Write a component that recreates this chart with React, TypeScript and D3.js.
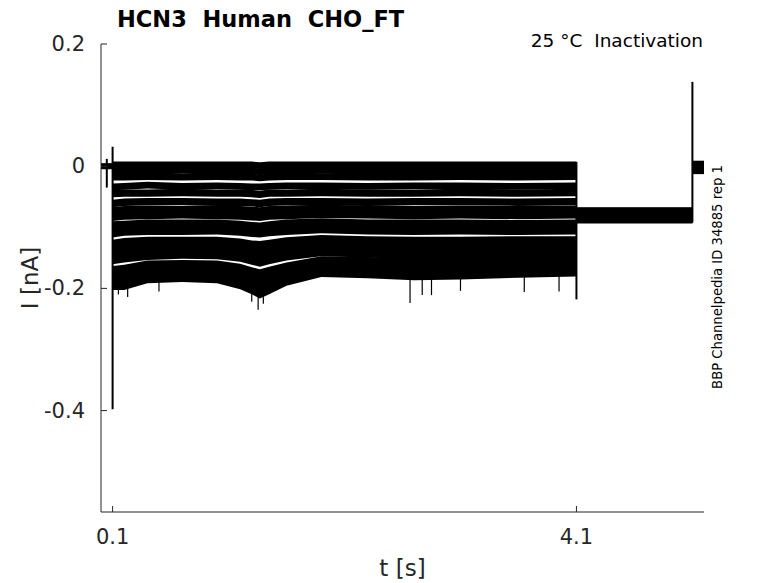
import React from "react";
import * as d3 from "d3";

// ---- data ----
const xDomain = [0, 5.2];
const yDomain = [-0.566, 0.2];
const xTicks = [0.1, 4.1];
const yTicks = [0.2, 0, -0.2, -0.4];
const yTickLabels = ["0.2", "0", "-0.2", "-0.4"];

// time knots of the test step (s)
const stepKnots = [0.1, 0.2, 0.4, 0.7, 1.0, 1.2, 1.3, 1.37, 1.45, 1.6, 1.9, 2.3, 2.7, 3.1, 3.6, 4.1];

// mean current of each sweep at the knots (nA)
const stepMeans = [
  [0.002, 0.002, 0.002, 0.002, 0.002, 0.002, 0.002, 0.001, 0.002, 0.002, 0.002, 0.002, 0.002, 0.002, 0.002, 0.002],
  [-0.008, -0.008, -0.008, -0.007, -0.008, -0.008, -0.008, -0.009, -0.008, -0.008, -0.007, -0.008, -0.008, -0.008, -0.008, -0.008],
  [-0.018, -0.018, -0.017, -0.018, -0.017, -0.018, -0.018, -0.019, -0.018, -0.017, -0.017, -0.018, -0.018, -0.017, -0.018, -0.017],
  [-0.034, -0.033, -0.031, -0.033, -0.032, -0.033, -0.034, -0.034, -0.033, -0.032, -0.032, -0.033, -0.032, -0.032, -0.033, -0.032],
  [-0.045, -0.044, -0.044, -0.043, -0.044, -0.044, -0.045, -0.046, -0.044, -0.044, -0.043, -0.044, -0.044, -0.043, -0.044, -0.043],
  [-0.061, -0.059, -0.058, -0.058, -0.059, -0.059, -0.060, -0.061, -0.059, -0.058, -0.058, -0.059, -0.058, -0.058, -0.059, -0.058],
  [-0.074, -0.072, -0.071, -0.072, -0.071, -0.072, -0.073, -0.074, -0.072, -0.071, -0.070, -0.071, -0.072, -0.071, -0.072, -0.071],
  [-0.083, -0.081, -0.080, -0.079, -0.080, -0.081, -0.082, -0.083, -0.081, -0.080, -0.078, -0.079, -0.080, -0.079, -0.080, -0.079],
  [-0.097, -0.096, -0.094, -0.094, -0.094, -0.096, -0.098, -0.099, -0.097, -0.094, -0.092, -0.094, -0.094, -0.094, -0.095, -0.094],
  [-0.110, -0.107, -0.106, -0.106, -0.105, -0.107, -0.109, -0.110, -0.108, -0.106, -0.103, -0.105, -0.106, -0.105, -0.106, -0.105],
  [-0.129, -0.126, -0.124, -0.124, -0.124, -0.127, -0.130, -0.131, -0.129, -0.125, -0.121, -0.123, -0.124, -0.124, -0.123, -0.123],
  [-0.143, -0.140, -0.137, -0.136, -0.137, -0.140, -0.143, -0.145, -0.142, -0.138, -0.132, -0.134, -0.137, -0.136, -0.136, -0.135],
  [-0.152, -0.149, -0.145, -0.143, -0.144, -0.148, -0.153, -0.156, -0.152, -0.146, -0.139, -0.141, -0.144, -0.144, -0.143, -0.141],
  [-0.172, -0.170, -0.163, -0.162, -0.163, -0.168, -0.174, -0.177, -0.173, -0.166, -0.156, -0.157, -0.159, -0.159, -0.157, -0.155],
  [-0.182, -0.181, -0.172, -0.170, -0.171, -0.179, -0.186, -0.190, -0.185, -0.175, -0.163, -0.164, -0.167, -0.166, -0.164, -0.162],
  [-0.191, -0.191, -0.180, -0.178, -0.180, -0.190, -0.198, -0.205, -0.198, -0.184, -0.170, -0.172, -0.175, -0.174, -0.171, -0.169],
];

// half-width of each sweep's noise band during the step (nA)
const stepNoise = [0.0055, 0.0055, 0.0055, 0.0055, 0.006, 0.006, 0.0068, 0.0068, 0.0068, 0.0068, 0.0085, 0.0085, 0.0085, 0.0085, 0.0098, 0.0115];

// holding segments: [start, end, mean, noise]
const holdPre = [0, 0.1, 0.0, 0.005];
const postMeans = [-0.076, -0.077, -0.078, -0.078, -0.079, -0.079, -0.080, -0.080, -0.081, -0.081, -0.082, -0.082, -0.083, -0.083, -0.084, -0.085];
const postSpan = [4.1, 5.1];
const postNoise = 0.009;
const holdEnd = [5.1, 5.2, -0.002, 0.011];

// capacitive transients: time, high, low (nA)
const transientT = [0.05, 0.1, 4.1, 5.1];
const transientHi = [0.012, 0.032, 0.007, 0.138];
const transientLo = [-0.035, -0.398, -0.218, -0.092];

// isolated downward noise spikes on the lowest sweeps
const spikeT = [0.15, 0.23, 0.5, 1.3, 1.355, 1.4, 2.665, 2.77, 2.85, 3.1, 3.65, 3.95];
const spikeLo = [-0.21, -0.214, -0.205, -0.222, -0.235, -0.225, -0.224, -0.211, -0.211, -0.204, -0.206, -0.205];

const title = "HCN3  Human  CHO_FT";
const subtitle = "25 °C  Inactivation";
const sideNote = "BBP Channelpedia ID 34885 rep 1";

// ---- layout ----
const W = 778;
const H = 583;
const M = { left: 101, right: 704, top: 44, bottom: 512 };
const font = "'DejaVu Sans', sans-serif";
const axisColor = "#262626";

export default function App() {
  const x = d3.scaleLinear().domain(xDomain).range([M.left, M.right]);
  const y = d3.scaleLinear().domain(yDomain).range([M.bottom, M.top]);

  type P = { t: number; m: number; n: number };
  const area = d3
    .area<P>()
    .x((d) => x(d.t))
    .y0((d) => y(d.m - d.n))
    .y1((d) => y(d.m + d.n));

  const flat = (t0: number, t1: number, m: number, n: number) =>
    area([
      { t: t0, m, n },
      { t: t1, m, n },
    ]) as string;

  const bands: string[] = [flat(holdPre[0], holdPre[1], holdPre[2], holdPre[3])];
  stepMeans.forEach((row, i) =>
    bands.push(area(row.map((m, k) => ({ t: stepKnots[k], m, n: stepNoise[i] }))) as string)
  );
  postMeans.forEach((m) => bands.push(flat(postSpan[0], postSpan[1], m, postNoise)));
  bands.push(flat(holdEnd[0], holdEnd[1], holdEnd[2], holdEnd[3]));

  const bottomRow = stepMeans[stepMeans.length - 1];
  const bottomAt = (t: number) => {
    const k = d3.bisectLeft(stepKnots, t);
    const k0 = Math.max(0, Math.min(stepKnots.length - 2, k - 1));
    const f = (t - stepKnots[k0]) / (stepKnots[k0 + 1] - stepKnots[k0]);
    return bottomRow[k0] + f * (bottomRow[k0 + 1] - bottomRow[k0]);
  };

  return (
    <svg width={W} height={H} style={{ display: "block", position: "absolute", left: 0, top: 0, background: "#fff" }}>
      {/* traces */}
      <g fill="#000">
        {bands.map((d, i) => (
          <path key={i} d={d} />
        ))}
      </g>
      <g stroke="#000" strokeWidth={2}>
        {transientT.map((t, i) => (
          <line key={i} x1={x(t)} x2={x(t)} y1={y(transientHi[i])} y2={y(transientLo[i])} />
        ))}
      </g>
      <g stroke="#000" strokeWidth={1.2}>
        {spikeT.map((t, i) => (
          <line key={i} x1={x(t)} x2={x(t)} y1={y(bottomAt(t))} y2={y(spikeLo[i])} />
        ))}
      </g>

      {/* axes */}
      <g stroke={axisColor} strokeWidth={1} fill="none">
        <line x1={M.left} x2={M.left} y1={M.top} y2={M.bottom} />
        <line x1={M.left} x2={M.right} y1={M.bottom} y2={M.bottom} />
        {yTicks.map((v) => (
          <line key={v} x1={M.left} x2={M.left + 6} y1={y(v)} y2={y(v)} />
        ))}
        {xTicks.map((v) => (
          <line key={v} x1={x(v)} x2={x(v)} y1={M.bottom} y2={M.bottom - 6} />
        ))}
      </g>
      <g fontFamily={font} fontSize={21} fill={axisColor}>
        {yTicks.map((v, i) => (
          <text key={v} x={M.left - 16} y={y(v)} textAnchor="end" dominantBaseline="central">
            {yTickLabels[i]}
          </text>
        ))}
        {xTicks.map((v) => (
          <text key={v} x={x(v)} y={544} textAnchor="middle">
            {v.toFixed(1)}
          </text>
        ))}
      </g>
      <text x={(M.left + M.right) / 2} y={576} textAnchor="middle" fontFamily={font} fontSize={23} fill={axisColor}>
        t [s]
      </text>
      <text
        transform={`translate(38,${(M.top + M.bottom) / 2}) rotate(-90)`}
        textAnchor="middle"
        fontFamily={font}
        fontSize={23}
        fill={axisColor}
      >
        I [nA]
      </text>

      {/* titles */}
      <text x={117} y={27} fontFamily={font} fontWeight="bold" fontSize={22.5} fill="#000" style={{ whiteSpace: "pre" }}>
        {title}
      </text>
      <text x={703} y={47} textAnchor="end" fontFamily={font} fontSize={18.5} fill="#000" style={{ whiteSpace: "pre" }}>
        {subtitle}
      </text>
      <text transform={`translate(721.5,277) rotate(-90)`} textAnchor="middle" fontFamily={font} fontSize={13.2} fill="#000">
        {sideNote}
      </text>
    </svg>
  );
}
